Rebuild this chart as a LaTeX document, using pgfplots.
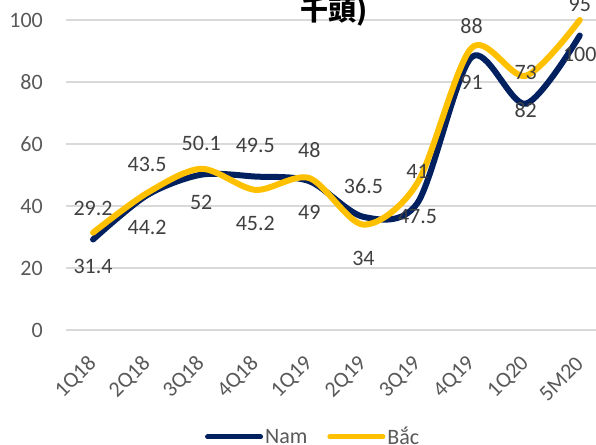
\documentclass[border=0pt]{standalone}
\usepackage{pgfplots}
\pgfplotsset{compat=1.18}
\usepackage{fontspec}
\setmainfont{Carlito}
\newfontfamily\cjk{Noto Sans CJK TC}
\definecolor{navy}{HTML}{002060}
\definecolor{gold}{HTML}{FFC000}
\definecolor{gridc}{HTML}{D9D9D9}
\definecolor{tickc}{HTML}{595959}
\definecolor{labc}{HTML}{404040}
\begin{document}
\begin{tikzpicture}
\begin{axis}[
  at={(66bp,115bp)}, anchor=south west,
  scale only axis, width=530bp, height=310bp,
  xmin=-0.5, xmax=9.3, ymin=0, ymax=100,
  clip=false,
  /pgf/number format/assume math mode=true,
  font=\fontsize{22bp}{26bp}\selectfont,
  xtick={0,...,9},
  xticklabels={1Q18,2Q18,3Q18,4Q18,1Q19,2Q19,3Q19,4Q19,1Q20,5M20},
  ytick={0,20,...,100},
  ymajorgrids,
  major grid style={draw=gridc, line width=1.3bp},
  axis line style={draw=none},
  tick style={draw=none},
  yticklabel style={anchor=east, inner sep=0pt, xshift=-23bp, text=tickc},
  xticklabel style={yshift=-30bp, rotate=45, anchor=east, inner sep=0pt, text=tickc},
  legend columns=2,
  legend style={draw=none, fill=none, at={(0.262,-0.345)}, anchor=west,
    inner sep=0pt, text=tickc, cells={anchor=center},
    nodes={inner sep=2bp},
    /tikz/every even column/.append style={column sep=18bp}},
  legend image code/.code={\draw[#1, line width=5bp, line cap=round] (0bp,0bp) -- (53bp,0bp);},
  every node near coord/.append style={font=\fontsize{22bp}{26bp}\selectfont, text=labc, anchor=center},
]
\addplot[navy, line width=6bp, smooth, tension=0.5, line cap=round,
  nodes near coords, every node near coord/.append style={yshift=31bp}]
  coordinates {(0,29.2) (1,43.5) (2,50.1) (3,49.5) (4,48) (5,36.5) (6,41) (7,88) (8,73) (9,95)};
\addlegendentry{Nam}
\addplot[gold, line width=6bp, smooth, tension=0.5, line cap=round,
  nodes near coords, every node near coord/.append style={yshift=-34bp}]
  coordinates {(0,31.4) (1,44.2) (2,52) (3,45.2) (4,49) (5,34) (6,47.5) (7,91) (8,82) (9,100)};
\addlegendentry{Bắc}
\end{axis}
\node[anchor=base west, inner sep=0pt, font=\cjk\bfseries\fontsize{28bp}{30bp}\selectfont] at (300bp,424bp) {千頭)};
\pgfresetboundingbox
\useasboundingbox (0,0) rectangle (596bp,445bp);
\end{tikzpicture}
\end{document}
